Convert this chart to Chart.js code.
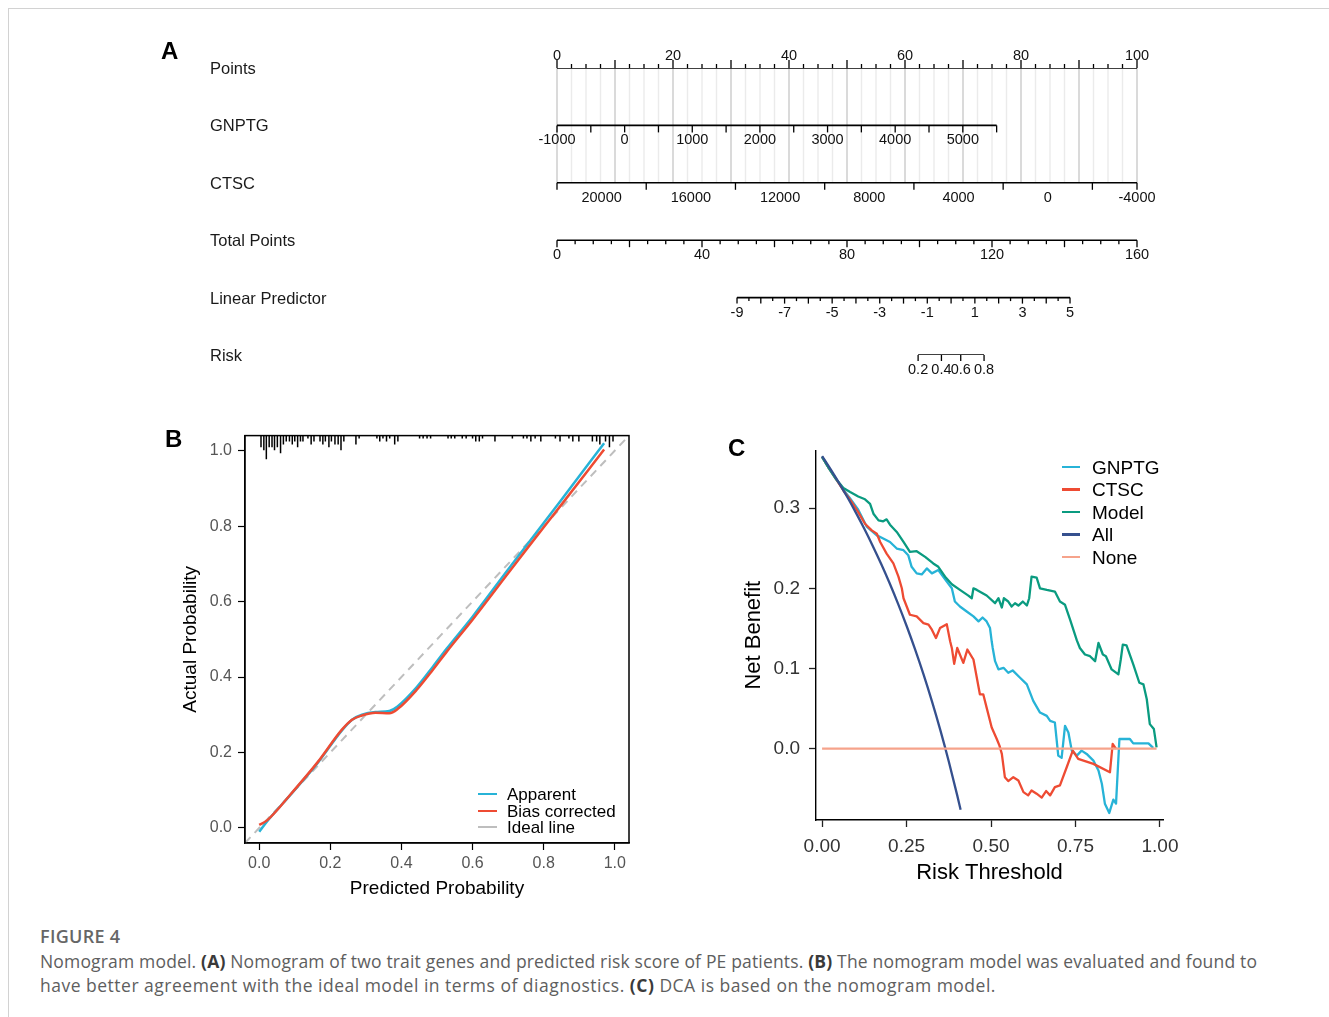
<!DOCTYPE html>
<html>
<head>
<meta charset="utf-8">
<script src="https://cdn.jsdelivr.net/npm/chart.js@4.4.0/dist/chart.umd.min.js"></script>
<style>
html,body{margin:0;padding:0;background:#fff;}
body{width:1329px;height:1017px;position:relative;overflow:hidden;font-family:"Liberation Sans",Arial,Helvetica,sans-serif;}
.frame-top{position:absolute;left:8px;top:8px;width:1321px;height:0;border-top:1.5px solid #d2d2d2;}
.frame-left{position:absolute;left:8px;top:8px;width:0;height:1009px;border-left:1.5px solid #d2d2d2;}
canvas{position:absolute;}
.letter{position:absolute;font-weight:bold;font-size:24px;line-height:24px;color:#000;}
.leg{position:absolute;white-space:nowrap;color:#000;}
.fig{position:absolute;left:40px;font-family:"Open Sans",sans-serif;font-weight:600;font-size:18px;line-height:24px;color:#666;letter-spacing:0.3px;}
.cap{position:absolute;left:40px;font-family:"Open Sans",sans-serif;font-size:17.5px;line-height:24px;color:#5e5e5e;white-space:nowrap;}
.cap b{color:#3a3a3a;font-weight:700;}
</style>
</head>
<body>
<div class="frame-top"></div>
<div class="frame-left"></div>

<canvas id="cA" width="1050" height="360" style="left:150px;top:30px;"></canvas>
<canvas id="cB" width="470" height="480" style="left:170px;top:420px;"></canvas>
<canvas id="cC" width="470" height="470" style="left:730px;top:430px;"></canvas>

<div class="letter" style="left:161px;top:39px;">A</div>
<div class="letter" style="left:165px;top:427px;">B</div>
<div class="letter" style="left:728px;top:436px;">C</div>

<div id="legB"></div>
<div id="legC"></div>

<div class="fig" style="top:924px;">FIGURE 4</div>
<div class="cap" style="top:949px;letter-spacing:0.17px;">Nomogram model. <b>(A)</b> Nomogram of two trait genes and predicted risk score of PE patients. <b>(B)</b> The nomogram model was evaluated and found to</div>
<div class="cap" style="top:973px;letter-spacing:0.5px;">have better agreement with the ideal model in terms of diagnostics. <b>(C)</b> DCA is based on the nomogram model.</div>

<script>
const FONT = '"Liberation Sans", Arial, Helvetica, sans-serif';
Chart.defaults.font.family = FONT;

// ---------------- Panel A : nomogram data ----------------
const rowNames = ['Points', 'GNPTG', 'CTSC', 'Total Points', 'Linear Predictor', 'Risk'];
const pointsLabels = [0, 20, 40, 60, 80, 100];
const gnptgLabels = [-1000, 0, 1000, 2000, 3000, 4000, 5000];
const gnptgRange = [-1000, 5500];
const gnptgPointsRange = [0, 75.8];
const ctscLabels = [20000, 16000, 12000, 8000, 4000, 0, -4000];
const ctscTicks = [22000, 18000, 14000, 10000, 6000, 2000, -2000, -4000];
const ctscRange = [22000, -4000];
const ctscPointsRange = [0, 100];
const totalLabels = [0, 40, 80, 120, 160];
const lpLabels = [-9, -7, -5, -3, -1, 1, 3, 5];
const lpRange = [-9, 5];
const lpTotalRange = [49.66, 141.52];
const riskLabels = [0.2, 0.4, 0.6, 0.8];

// ---------------- Panel B : calibration data ----------------
const calP = [0, 0.022, 0.089, 0.165, 0.232, 0.261, 0.289, 0.327, 0.366, 0.389, 0.442, 0.489, 0.528, 0.6, 0.7, 0.757, 0.85, 0.97];
const apparentY = [-0.01, 0.017, 0.089, 0.173, 0.258, 0.287, 0.300, 0.307, 0.310, 0.322, 0.372, 0.428, 0.476, 0.56, 0.685, 0.755, 0.87, 1.02];
const biasY = [0.008, 0.02, 0.09, 0.175, 0.26, 0.287, 0.298, 0.305, 0.304, 0.315, 0.365, 0.42, 0.468, 0.552, 0.675, 0.745, 0.857, 1.003];
const idealP = [-0.04, 1.04];
const rugP = [0.005, 0.013, 0.020, 0.028, 0.036, 0.043, 0.051, 0.060, 0.068, 0.076, 0.085, 0.093, 0.100, 0.108, 0.116, 0.123, 0.137, 0.146, 0.154, 0.171, 0.179, 0.186, 0.196, 0.203, 0.213, 0.222, 0.230, 0.238, 0.272, 0.281, 0.331, 0.339, 0.348, 0.358, 0.367, 0.381, 0.390, 0.451, 0.461, 0.472, 0.482, 0.531, 0.540, 0.550, 0.571, 0.582, 0.600, 0.609, 0.619, 0.628, 0.663, 0.712, 0.743, 0.753, 0.764, 0.776, 0.792, 0.833, 0.846, 0.871, 0.882, 0.899, 0.937, 0.949, 0.958, 0.974, 0.985, 0.995];
const rugN = [4, 5, 8, 4, 4, 5, 4, 6, 3, 2, 2, 3, 2, 4, 2, 2, 1, 3, 2, 2, 3, 2, 4, 2, 3, 3, 5, 2, 3, 1, 1, 2, 1, 2, 1, 3, 2, 1, 1, 1, 1, 1, 1, 1, 1, 1, 1, 2, 2, 1, 2, 1, 1, 1, 2, 1, 2, 1, 2, 1, 2, 2, 2, 2, 3, 2, 4, 2];
const xTicksB = [0, 0.2, 0.4, 0.6, 0.8, 1.0];
const yTicksB = [0, 0.2, 0.4, 0.6, 0.8, 1.0];

// ---------------- Panel C : decision curve data ----------------
const gnptgCurve = [[0,0.364],[0.02,0.350],[0.04,0.337],[0.063,0.323],[0.083,0.312],[0.107,0.298],[0.132,0.277],[0.162,0.266],[0.181,0.262],[0.201,0.2578],[0.221,0.2496],[0.241,0.2475],[0.255,0.2413],[0.265,0.2268],[0.280,0.2186],[0.295,0.2173],[0.310,0.2248],[0.325,0.2186],[0.344,0.2227],[0.369,0.2083],[0.384,0.200],[0.393,0.1835],[0.408,0.1773],[0.428,0.1711],[0.448,0.1649],[0.463,0.1587],[0.475,0.1636],[0.487,0.1587],[0.497,0.1504],[0.502,0.1339],[0.505,0.1256],[0.512,0.1091],[0.522,0.0988],[0.537,0.1008],[0.551,0.0946],[0.564,0.0976],[0.586,0.0884],[0.606,0.0802],[0.625,0.0595],[0.645,0.045],[0.665,0.0409],[0.675,0.0347],[0.689,0.0326],[0.699,-0.0087],[0.709,-0.0115],[0.719,0.0285],[0.729,0.0202],[0.739,-0.0025],[0.754,-0.0087],[0.768,-0.0025],[0.783,-0.0066],[0.803,-0.0149],[0.818,-0.0273],[0.828,-0.0438],[0.837,-0.0686],[0.850,-0.0802],[0.862,-0.0636],[0.870,-0.0686],[0.880,0.012],[0.911,0.012],[0.921,0.0066],[0.966,0.0066],[0.980,0.0009]];
const ctscCurve = [[0,0.364],[0.02,0.350],[0.04,0.337],[0.063,0.322],[0.088,0.3074],[0.107,0.295],[0.127,0.2805],[0.147,0.2723],[0.162,0.2681],[0.172,0.2578],[0.191,0.2433],[0.211,0.231],[0.226,0.2145],[0.236,0.200],[0.241,0.1876],[0.260,0.167],[0.280,0.1649],[0.300,0.1566],[0.315,0.1546],[0.325,0.1484],[0.337,0.138],[0.349,0.1504],[0.369,0.1553],[0.379,0.1339],[0.384,0.1256],[0.391,0.1057],[0.400,0.1256],[0.418,0.107],[0.430,0.1236],[0.448,0.1112],[0.467,0.0678],[0.477,0.0678],[0.487,0.0512],[0.502,0.0264],[0.517,0.012],[0.525,0.0037],[0.532,-0.0066],[0.541,-0.0356],[0.551,-0.0405],[0.566,-0.0356],[0.581,-0.0397],[0.596,-0.0542],[0.610,-0.0583],[0.620,-0.0521],[0.635,-0.0562],[0.650,-0.0611],[0.663,-0.0529],[0.675,-0.0583],[0.689,-0.048],[0.704,-0.0459],[0.724,-0.0232],[0.742,-0.0025],[0.758,-0.0128],[0.803,-0.019],[0.852,-0.0294],[0.860,0.0058],[0.870,-0.0004]];
const modelCurve = [[0,0.364],[0.02,0.350],[0.04,0.337],[0.063,0.325],[0.083,0.320],[0.107,0.3145],[0.127,0.311],[0.142,0.3054],[0.152,0.293],[0.167,0.2847],[0.181,0.2835],[0.191,0.286],[0.201,0.2793],[0.221,0.2703],[0.241,0.2578],[0.260,0.2454],[0.280,0.2463],[0.305,0.2392],[0.329,0.231],[0.344,0.2268],[0.364,0.2145],[0.384,0.205],[0.408,0.198],[0.433,0.1909],[0.443,0.1876],[0.448,0.200],[0.458,0.198],[0.487,0.191],[0.512,0.1814],[0.522,0.1876],[0.532,0.176],[0.538,0.1876],[0.551,0.1835],[0.561,0.1773],[0.571,0.1814],[0.581,0.1785],[0.594,0.1835],[0.606,0.1785],[0.613,0.1876],[0.620,0.2145],[0.635,0.2132],[0.645,0.200],[0.665,0.198],[0.689,0.1959],[0.704,0.1835],[0.719,0.1794],[0.734,0.1608],[0.754,0.135],[0.763,0.1256],[0.778,0.1174],[0.793,0.1153],[0.808,0.1091],[0.818,0.1318],[0.831,0.1174],[0.840,0.1153],[0.857,0.0988],[0.877,0.0926],[0.884,0.1112],[0.890,0.1298],[0.901,0.1289],[0.921,0.105],[0.939,0.0822],[0.951,0.0802],[0.961,0.0616],[0.970,0.0306],[0.982,0.0244],[0.990,0.0016]];
const allCurve = [[0,0.365],[0.025,0.3487],[0.05,0.3316],[0.075,0.3135],[0.1,0.2944],[0.125,0.2743],[0.15,0.2529],[0.175,0.2303],[0.2,0.2063],[0.225,0.1806],[0.25,0.1533],[0.275,0.1241],[0.3,0.0929],[0.325,0.0593],[0.35,0.0231],[0.375,-0.016],[0.4,-0.0583],[0.41,-0.0763]];
const noneCurve = [[0,0],[0.99,0]];
const xTicksC = [0, 0.25, 0.5, 0.75, 1.0];
const yTicksC = [0, 0.1, 0.2, 0.3];

const CYAN = '#27B3D7', RED = '#EE4B33', TEAL = '#0A9B80', NAVY = '#35508E', SALMON = '#F6A38B', IDEAL = '#BEBEBE';

// ---------------- helpers ----------------
const lin = (v, d, r) => r[0] + (v - d[0]) * (r[1] - r[0]) / (d[1] - d[0]);
const steps = (a, b, s) => { const out = []; const n = Math.round((b - a) / s); for (let i = 0; i <= n; i++) out.push(+(a + i * s).toFixed(6)); return out; };
const logit = p => Math.log(p / (1 - p));
const fmtRisk = v => v.toFixed(1);

// ---------------- Panel A ----------------
const nomoAxes = [
  {row: 0, scale: 'x', f: v => v, range: [0, 100], ticks: steps(0, 100, 2.5).map(v => [v, (v % 10 === 0) ? 8 : 4]), labels: pointsLabels, up: true, fmt: String},
  {row: 1, scale: 'x', f: v => lin(v, gnptgRange, gnptgPointsRange), range: gnptgRange, ticks: steps(-1000, 5500, 500).map(v => [v, 7]), labels: gnptgLabels, fmt: String},
  {row: 2, scale: 'x', f: v => lin(v, ctscRange, ctscPointsRange), range: ctscRange, ticks: ctscTicks.map(v => [v, 7]), labels: ctscLabels, fmt: String},
  {row: 3, scale: 'xt', f: v => v, range: [0, 160], ticks: steps(0, 160, 5).map(v => [v, (v % 20 === 0) ? 7 : 4]), labels: totalLabels, fmt: String},
  {row: 4, scale: 'xt', f: v => lin(v, lpRange, lpTotalRange), range: lpRange, ticks: steps(-9, 5, 0.5).map(v => [v, Number.isInteger(v) ? 6 : 3.5]), labels: lpLabels, fmt: String},
  {row: 5, scale: 'xt', f: v => lin(logit(v), lpRange, lpTotalRange), range: [0.2, 0.8], ticks: riskLabels.map(v => [v, 6]), labels: riskLabels, fmt: fmtRisk}
];

const nomoPlugin = {
  id: 'nomo',
  beforeDatasetsDraw(chart) {
    const {ctx, scales: {x, y}} = chart;
    const y0 = y.getPixelForValue(0), y2 = y.getPixelForValue(2);
    ctx.save();
    ctx.lineWidth = 1.4;
    steps(0, 100, 2.5).forEach(v => {
      const px = x.getPixelForValue(v);
      ctx.strokeStyle = (v % 10 === 0) ? '#cbcbcb' : '#ebebeb';
      ctx.beginPath(); ctx.moveTo(px, y0); ctx.lineTo(px, y2); ctx.stroke();
    });
    ctx.restore();
  },
  afterDatasetsDraw(chart) {
    const {ctx, scales} = chart;
    const y = scales.y;
    ctx.save();
    nomoAxes.forEach(ax => {
      const sc = scales[ax.scale];
      const py = y.getPixelForValue(ax.row);
      ctx.strokeStyle = '#000';
      ctx.lineWidth = 1.3;
      ax.ticks.forEach(([v, len]) => {
        const px = sc.getPixelForValue(ax.f(v));
        ctx.beginPath(); ctx.moveTo(px, py); ctx.lineTo(px, ax.up ? py - len : py + len); ctx.stroke();
      });
      ctx.fillStyle = '#111';
      ctx.font = '14.5px ' + FONT;
      ctx.textAlign = 'center';
      ctx.textBaseline = 'middle';
      ax.labels.forEach(v => {
        const px = sc.getPixelForValue(ax.f(v));
        ctx.fillText(ax.fmt(v), px, ax.up ? py - 12 : py + 15);
      });
    });
    ctx.font = '16.5px ' + FONT;
    ctx.fillStyle = '#1a1a1a';
    ctx.textAlign = 'left';
    ctx.textBaseline = 'middle';
    rowNames.forEach((name, i) => ctx.fillText(name, 60, y.getPixelForValue(i) + 1.5));
    ctx.restore();
  }
};

new Chart(document.getElementById('cA'), {
  type: 'scatter',
  data: {
    datasets: nomoAxes.map(ax => ({
      data: [{x: ax.f(ax.range[0]), y: ax.row}, {x: ax.f(ax.range[1]), y: ax.row}],
      xAxisID: ax.scale, showLine: true, borderColor: '#000', borderWidth: 1.6, pointRadius: 0
    }))
  },
  options: {
    responsive: false, animation: false, events: [], devicePixelRatio: 1,
    layout: {padding: {left: 407, right: 63, top: 38, bottom: 35}},
    plugins: {legend: {display: false}, tooltip: {enabled: false}},
    scales: {
      x: {type: 'linear', min: 0, max: 100, display: false},
      xt: {type: 'linear', axis: 'x', position: 'bottom', min: 0, max: 160, display: false},
      y: {type: 'linear', min: 0, max: 5, reverse: true, display: false}
    }
  },
  plugins: [nomoPlugin]
});

// ---------------- Panel B ----------------
const boxPlugin = {
  id: 'box',
  afterDraw(chart) {
    const {ctx, chartArea: a} = chart;
    ctx.save(); ctx.strokeStyle = '#000'; ctx.lineWidth = 1.5;
    ctx.strokeRect(a.left, a.top, a.right - a.left, a.bottom - a.top);
    ctx.restore();
  }
};
const rugData = rugP.flatMap((p, i) => [{x: p, y: 1.04}, {x: p, y: 1.04 - rugN[i] * 0.0078}, {x: p, y: null}]);

new Chart(document.getElementById('cB'), {
  type: 'scatter',
  data: {
    datasets: [
      {label: 'rug', data: rugData, showLine: true, spanGaps: false, borderColor: '#000', borderWidth: 1.5, pointRadius: 0},
      {label: 'Bias corrected', data: calP.map((p, i) => ({x: p, y: biasY[i]})), showLine: true, borderColor: RED, borderWidth: 2.5, pointRadius: 0, cubicInterpolationMode: 'monotone'},
      {label: 'Apparent', data: calP.map((p, i) => ({x: p, y: apparentY[i]})), showLine: true, borderColor: CYAN, borderWidth: 2.5, pointRadius: 0, cubicInterpolationMode: 'monotone'},
      {label: 'Ideal line', data: idealP.map(p => ({x: p, y: p})), showLine: true, borderColor: IDEAL, borderWidth: 2, borderDash: [8, 6], pointRadius: 0}
    ]
  },
  options: {
    responsive: false, animation: false, events: [], devicePixelRatio: 1,
    layout: {padding: {left: 0, right: 11, top: 13, bottom: 0}},
    plugins: {legend: {display: false}, tooltip: {enabled: false}},
    scales: {
      x: {
        type: 'linear', min: -0.04, max: 1.04,
        afterBuildTicks: s => { s.ticks = xTicksB.map(v => ({value: v})); },
        afterFit: s => { s.height = 57; },
        grid: {drawOnChartArea: false, drawTicks: true, tickLength: 7, tickColor: '#000', tickWidth: 1.2},
        border: {display: true, color: '#000', width: 1.2},
        ticks: {callback: v => v.toFixed(1), color: '#555', font: {size: 16}, padding: 4, maxRotation: 0, autoSkip: false},
        title: {display: true, text: 'Predicted Probability', color: '#000', font: {size: 19}, padding: {top: 0, bottom: 0}}
      },
      y: {
        type: 'linear', min: -0.04, max: 1.04,
        afterBuildTicks: s => { s.ticks = yTicksB.map(v => ({value: v})); },
        afterFit: s => { s.width = 75; },
        grid: {drawOnChartArea: false, drawTicks: true, tickLength: 7, tickColor: '#000', tickWidth: 1.2},
        border: {display: true, color: '#000', width: 1.2},
        ticks: {callback: v => v.toFixed(1), color: '#555', font: {size: 16}, padding: 6, autoSkip: false},
        title: {display: true, text: 'Actual Probability', color: '#000', font: {size: 19}, padding: {top: 9, bottom: 0}}
      }
    }
  },
  plugins: [boxPlugin]
});

// ---------------- Panel C ----------------
const toXY = arr => arr.map(([t, nb]) => ({x: t, y: nb}));
const lineDS = (label, arr, color, extra) => Object.assign({label, data: toXY(arr), showLine: true, borderColor: color, borderWidth: 2.3, pointRadius: 0, borderJoinStyle: 'round'}, extra || {});

new Chart(document.getElementById('cC'), {
  type: 'scatter',
  data: {
    datasets: [
      lineDS('None', noneCurve, SALMON),
      lineDS('All', allCurve, NAVY, {cubicInterpolationMode: 'monotone'}),
      lineDS('Model', modelCurve, TEAL),
      lineDS('CTSC', ctscCurve, RED),
      lineDS('GNPTG', gnptgCurve, CYAN)
    ]
  },
  options: {
    responsive: false, animation: false, events: [], devicePixelRatio: 1,
    layout: {padding: {left: 0, right: 37, top: 18, bottom: 0}},
    plugins: {legend: {display: false}, tooltip: {enabled: false}},
    scales: {
      x: {
        type: 'linear', min: -0.018, max: 1.009,
        afterBuildTicks: s => { s.ticks = xTicksC.map(v => ({value: v})); },
        afterFit: s => { s.height = 80; },
        grid: {drawOnChartArea: false, drawTicks: true, tickLength: 7, tickColor: '#222', tickWidth: 1.3},
        border: {display: true, color: '#000', width: 1.4},
        ticks: {callback: v => v.toFixed(2), color: '#333', font: {size: 19}, padding: 8, maxRotation: 0, autoSkip: false},
        title: {display: true, text: 'Risk Threshold', color: '#000', font: {size: 22}, padding: {top: 0, bottom: 14}}
      },
      y: {
        type: 'linear', min: -0.089, max: 0.372,
        afterBuildTicks: s => { s.ticks = yTicksC.map(v => ({value: v})); },
        afterFit: s => { s.width = 86; },
        grid: {drawOnChartArea: false, drawTicks: true, tickLength: 7, tickColor: '#222', tickWidth: 1.3},
        border: {display: true, color: '#000', width: 1.4},
        ticks: {callback: v => v.toFixed(1), color: '#333', font: {size: 19}, padding: 9, autoSkip: false},
        title: {display: true, text: 'Net Benefit', color: '#000', font: {size: 22}, padding: {top: 11, bottom: 0}}
      }
    }
  }
});

// ---------------- legends (HTML text) ----------------
function buildLegend(id, items, x0, x1, tx, ys, size, lw) {
  const host = document.getElementById(id);
  items.forEach(([label, color], i) => {
    const ln = document.createElement('div');
    ln.className = 'leg';
    ln.style.left = x0 + 'px'; ln.style.top = (ys[i] - lw / 2) + 'px';
    ln.style.width = (x1 - x0) + 'px'; ln.style.height = lw + 'px'; ln.style.background = color;
    host.appendChild(ln);
    const t = document.createElement('div');
    t.className = 'leg';
    t.style.left = tx + 'px'; t.style.top = (ys[i] - size / 2) + 'px';
    t.style.fontSize = size + 'px'; t.style.lineHeight = size + 'px';
    t.textContent = label;
    host.appendChild(t);
  });
}
buildLegend('legB', [['Apparent', CYAN], ['Bias corrected', RED], ['Ideal line', IDEAL]], 478, 497, 507, [794, 811, 827], 17, 2.5);
buildLegend('legC', [['GNPTG', CYAN], ['CTSC', RED], ['Model', TEAL], ['All', NAVY], ['None', SALMON]], 1062, 1080, 1092, [467, 489.5, 512, 534.5, 557], 19, 2.5);
</script>
</body>
</html>
